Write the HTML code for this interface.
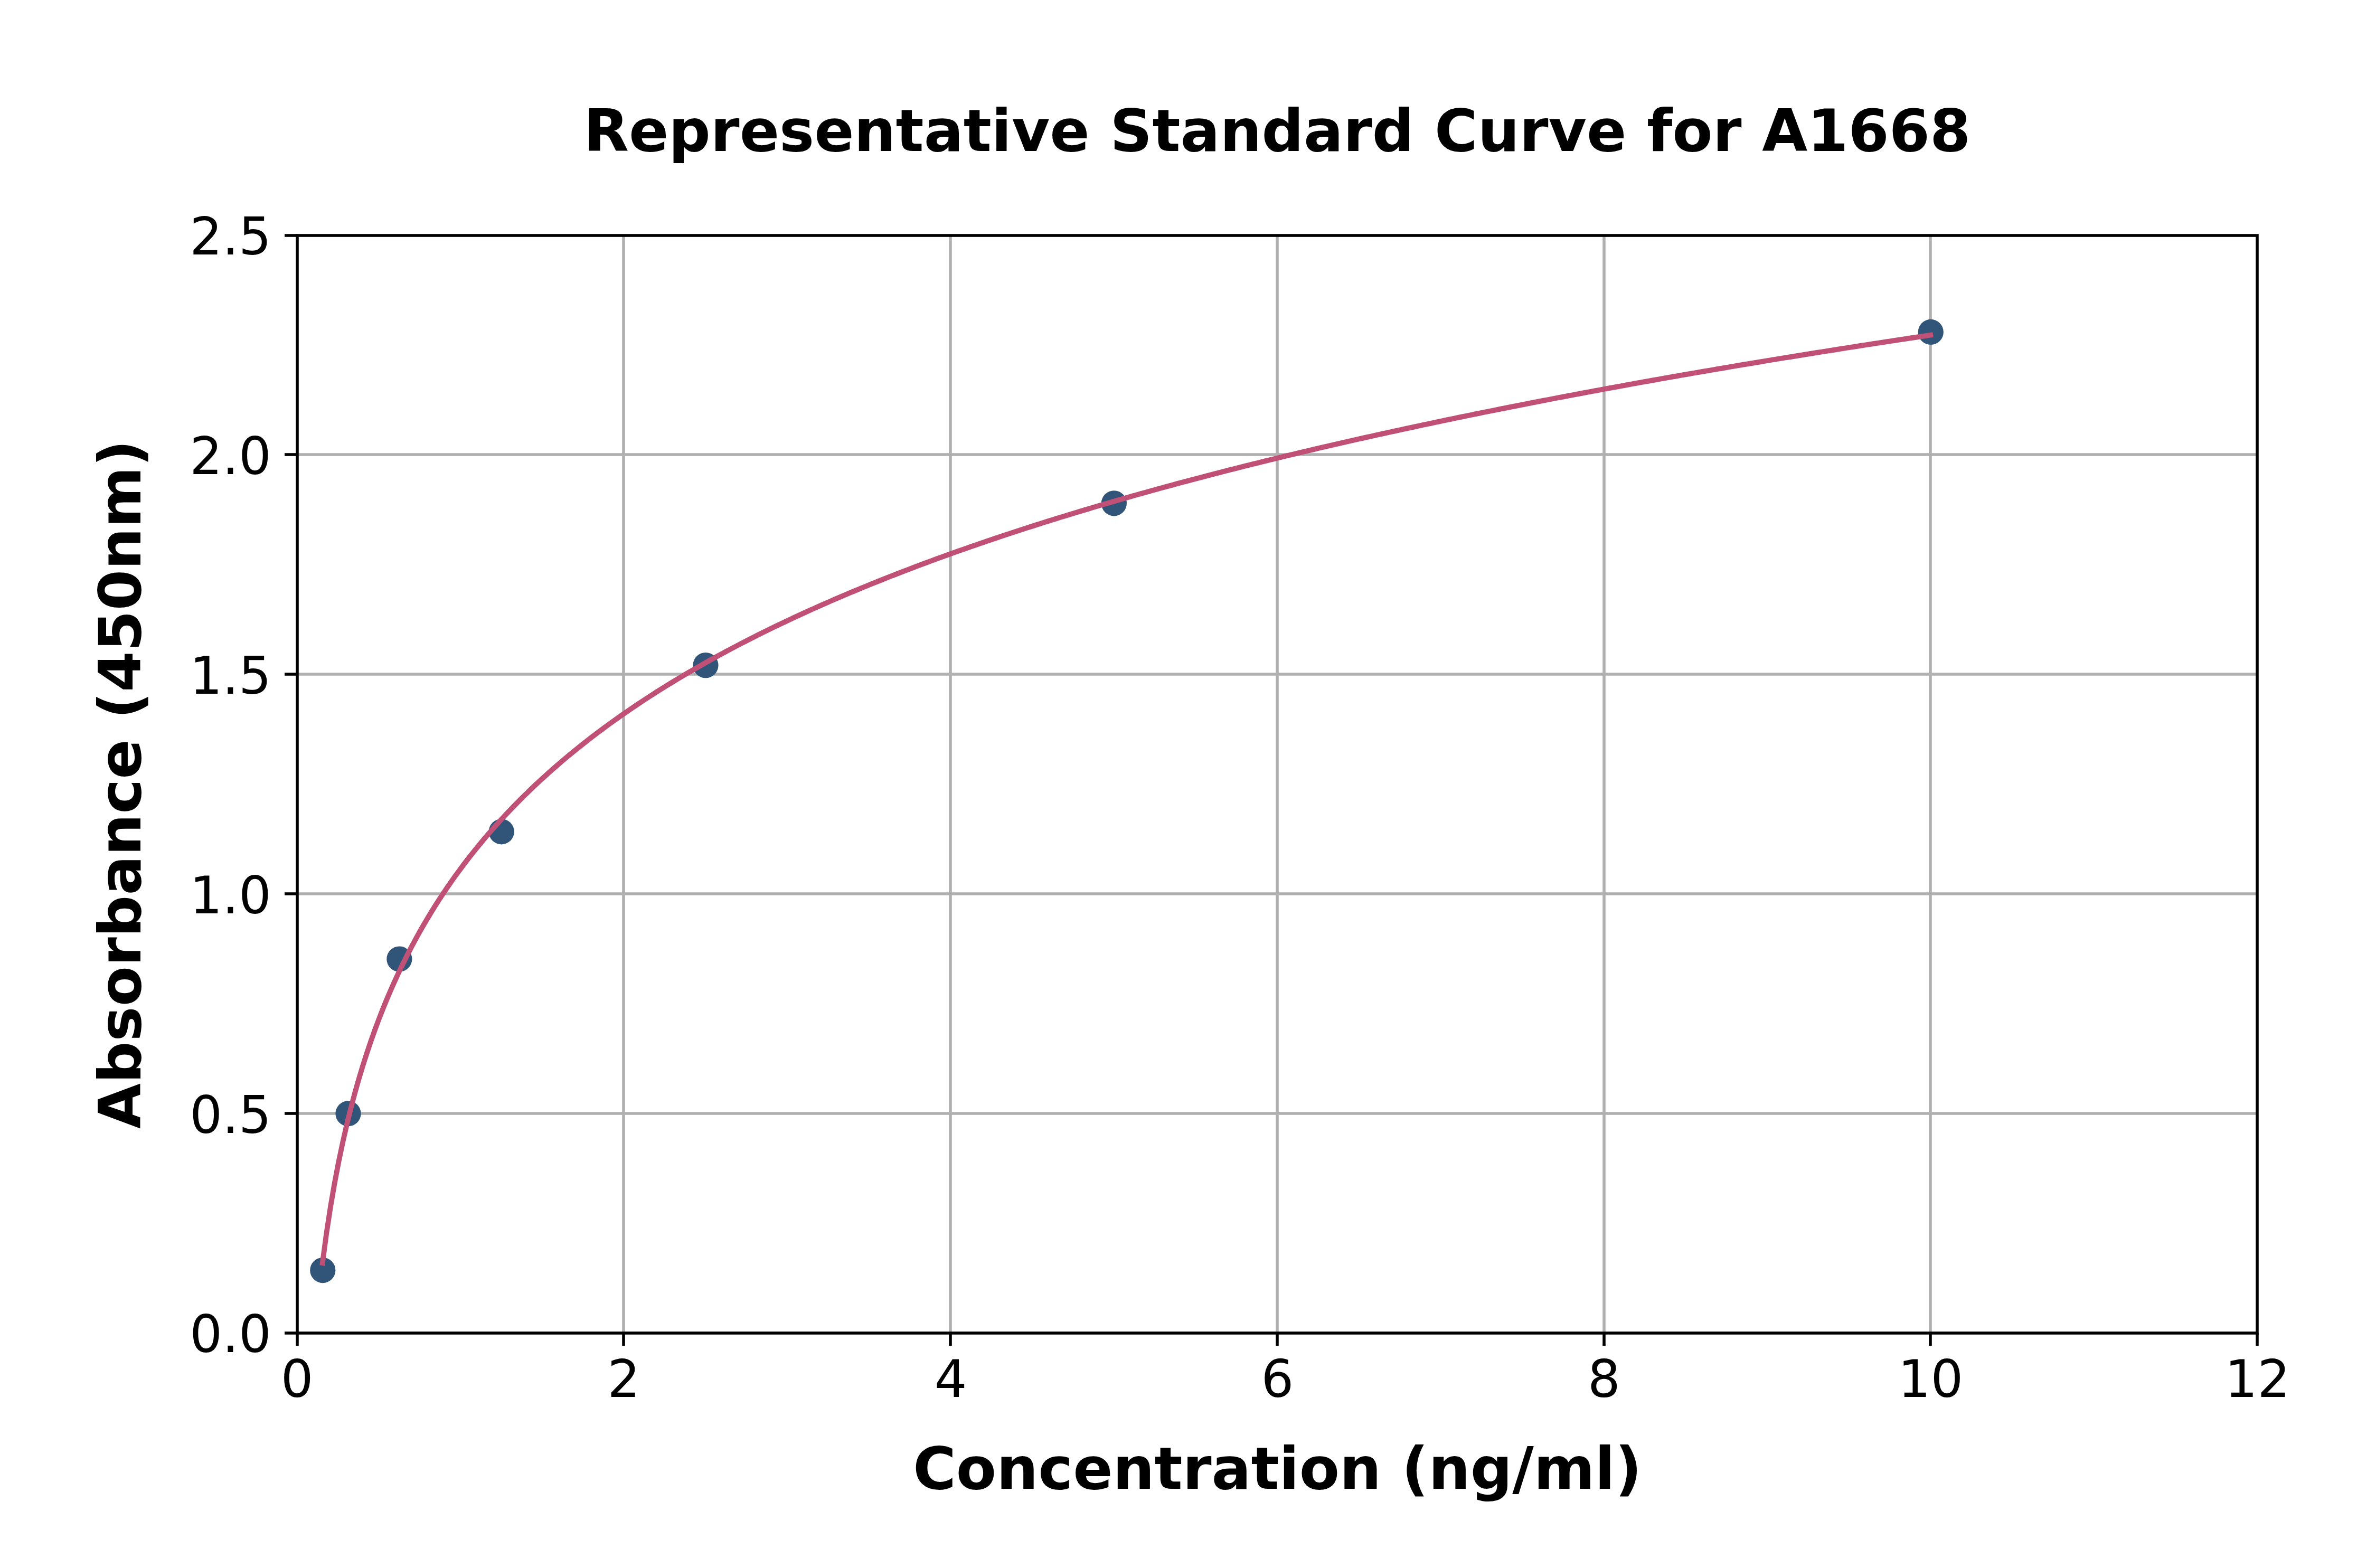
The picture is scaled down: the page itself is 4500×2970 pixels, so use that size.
<!DOCTYPE html>
<html lang="en">
<head>
<meta charset="utf-8">
<title>Representative Standard Curve for A1668</title>
<style>
html,body{margin:0;padding:0;background:#fff;}
body{width:4500px;height:2970px;overflow:hidden;}
svg{display:block;}
text{font-family:"DejaVu Sans","Liberation Sans",sans-serif;fill:#000;}
.b{font-weight:bold;font-size:111.11px;}
.t{font-size:97.22px;}
</style>
</head>
<body>
<svg width="4500" height="2970" viewBox="0 0 4500 2970">
<rect x="0" y="0" width="4500" height="2970" fill="#ffffff"/>
<g stroke="#b0b0b0" stroke-width="5.556" fill="none">
<line x1="1181" y1="446.0" x2="1181" y2="2525.0"/>
<line x1="1800" y1="446.0" x2="1800" y2="2525.0"/>
<line x1="2419" y1="446.0" x2="2419" y2="2525.0"/>
<line x1="3038" y1="446.0" x2="3038" y2="2525.0"/>
<line x1="3656" y1="446.0" x2="3656" y2="2525.0"/>
<line x1="563.0" y1="861" x2="4275.0" y2="861"/>
<line x1="563.0" y1="1277" x2="4275.0" y2="1277"/>
<line x1="563.0" y1="1693" x2="4275.0" y2="1693"/>
<line x1="563.0" y1="2109" x2="4275.0" y2="2109"/>
</g>
<g fill="#315579">
<circle cx="611.26" cy="2406.08" r="24.1"/>
<circle cx="659.52" cy="2109.20" r="24.1"/>
<circle cx="756.36" cy="1816.48" r="24.1"/>
<circle cx="949.72" cy="1575.31" r="24.1"/>
<circle cx="1336.44" cy="1260.14" r="24.1"/>
<circle cx="2109.88" cy="953.28" r="24.1"/>
<circle cx="3656.75" cy="628.95" r="24.1"/>
</g>
<polyline points="610.76,2392.15 618.40,2335.36 626.03,2285.55 633.66,2241.17 641.29,2201.12 648.93,2164.63 656.56,2131.10 664.19,2100.08 671.82,2071.21 679.46,2044.21 687.09,2018.84 694.72,1994.92 702.36,1972.28 709.99,1950.80 717.62,1930.36 725.25,1910.85 732.89,1892.21 740.52,1874.34 748.15,1857.19 755.79,1840.71 763.42,1824.84 771.05,1809.53 778.68,1794.75 786.32,1780.46 793.95,1766.63 801.58,1753.23 809.22,1740.23 816.85,1727.62 824.48,1715.36 832.11,1703.43 839.75,1691.83 847.38,1680.53 855.01,1669.51 862.64,1658.76 870.28,1648.28 877.91,1638.04 885.54,1628.03 893.18,1618.25 900.81,1608.68 908.44,1599.32 916.07,1590.15 923.71,1581.17 931.34,1572.37 938.97,1563.74 946.61,1555.27 954.24,1546.97 961.87,1538.82 969.50,1530.82 977.14,1522.96 984.77,1515.23 992.40,1507.64 1000.04,1500.18 1007.67,1492.84 1015.30,1485.62 1022.93,1478.52 1030.57,1471.53 1038.20,1464.64 1045.83,1457.86 1053.46,1451.19 1061.10,1444.61 1068.73,1438.13 1076.36,1431.74 1084.00,1425.44 1091.63,1419.22 1099.26,1413.10 1106.89,1407.05 1114.53,1401.09 1122.16,1395.20 1129.79,1389.40 1137.43,1383.66 1145.06,1378.00 1152.69,1372.41 1160.32,1366.88 1167.96,1361.43 1175.59,1356.04 1183.22,1350.71 1190.86,1345.45 1198.49,1340.24 1206.12,1335.10 1213.75,1330.01 1221.39,1324.99 1229.02,1320.01 1236.65,1315.09 1244.28,1310.23 1251.92,1305.41 1259.55,1300.65 1267.18,1295.93 1274.82,1291.27 1282.45,1286.65 1290.08,1282.08 1297.71,1277.55 1305.35,1273.07 1312.98,1268.64 1320.61,1264.24 1328.25,1259.89 1335.88,1255.58 1343.51,1251.31 1351.14,1247.08 1358.78,1242.89 1366.41,1238.73 1374.04,1234.62 1381.68,1230.54 1389.31,1226.50 1396.94,1222.49 1404.57,1218.52 1412.21,1214.58 1419.84,1210.68 1427.47,1206.81 1435.10,1202.97 1442.74,1199.16 1450.37,1195.39 1458.00,1191.64 1465.64,1187.93 1473.27,1184.25 1480.90,1180.59 1488.53,1176.97 1496.17,1173.37 1503.80,1169.80 1511.43,1166.26 1519.07,1162.75 1526.70,1159.26 1534.33,1155.80 1541.96,1152.37 1549.60,1148.96 1557.23,1145.57 1564.86,1142.21 1572.50,1138.88 1580.13,1135.57 1587.76,1132.28 1595.39,1129.02 1603.03,1125.78 1610.66,1122.56 1618.29,1119.36 1625.93,1116.19 1633.56,1113.04 1641.19,1109.91 1648.82,1106.80 1656.46,1103.71 1664.09,1100.64 1671.72,1097.59 1679.35,1094.56 1686.99,1091.56 1694.62,1088.57 1702.25,1085.60 1709.89,1082.65 1717.52,1079.72 1725.15,1076.80 1732.78,1073.91 1740.42,1071.03 1748.05,1068.17 1755.68,1065.33 1763.32,1062.51 1770.95,1059.70 1778.58,1056.91 1786.21,1054.14 1793.85,1051.38 1801.48,1048.64 1809.11,1045.91 1816.75,1043.20 1824.38,1040.51 1832.01,1037.83 1839.64,1035.17 1847.28,1032.53 1854.91,1029.89 1862.54,1027.28 1870.17,1024.68 1877.81,1022.09 1885.44,1019.51 1893.07,1016.95 1900.71,1014.41 1908.34,1011.88 1915.97,1009.36 1923.60,1006.86 1931.24,1004.37 1938.87,1001.89 1946.50,999.42 1954.14,996.97 1961.77,994.53 1969.40,992.11 1977.03,989.70 1984.67,987.29 1992.30,984.91 1999.93,982.53 2007.57,980.17 2015.20,977.81 2022.83,975.47 2030.46,973.14 2038.10,970.83 2045.73,968.52 2053.36,966.23 2060.99,963.94 2068.63,961.67 2076.26,959.41 2083.89,957.16 2091.53,954.92 2099.16,952.69 2106.79,950.47 2114.42,948.26 2122.06,946.07 2129.69,943.88 2137.32,941.70 2144.96,939.54 2152.59,937.38 2160.22,935.23 2167.85,933.10 2175.49,930.97 2183.12,928.85 2190.75,926.74 2198.39,924.64 2206.02,922.55 2213.65,920.47 2221.28,918.40 2228.92,916.34 2236.55,914.29 2244.18,912.24 2251.81,910.21 2259.45,908.18 2267.08,906.16 2274.71,904.15 2282.35,902.15 2289.98,900.16 2297.61,898.18 2305.24,896.20 2312.88,894.24 2320.51,892.28 2328.14,890.33 2335.78,888.38 2343.41,886.45 2351.04,884.52 2358.67,882.60 2366.31,880.69 2373.94,878.79 2381.57,876.89 2389.21,875.00 2396.84,873.12 2404.47,871.25 2412.10,869.39 2419.74,867.53 2427.37,865.68 2435.00,863.83 2442.63,862.00 2450.27,860.17 2457.90,858.34 2465.53,856.53 2473.17,854.72 2480.80,852.92 2488.43,851.12 2496.06,849.34 2503.70,847.55 2511.33,845.78 2518.96,844.01 2526.60,842.25 2534.23,840.50 2541.86,838.75 2549.49,837.01 2557.13,835.27 2564.76,833.54 2572.39,831.82 2580.03,830.10 2587.66,828.39 2595.29,826.69 2602.92,824.99 2610.56,823.30 2618.19,821.61 2625.82,819.93 2633.45,818.26 2641.09,816.59 2648.72,814.93 2656.35,813.27 2663.99,811.62 2671.62,809.98 2679.25,808.34 2686.88,806.70 2694.52,805.08 2702.15,803.45 2709.78,801.84 2717.42,800.23 2725.05,798.62 2732.68,797.02 2740.31,795.42 2747.95,793.83 2755.58,792.25 2763.21,790.67 2770.85,789.10 2778.48,787.53 2786.11,785.96 2793.74,784.41 2801.38,782.85 2809.01,781.30 2816.64,779.76 2824.27,778.22 2831.91,776.69 2839.54,775.16 2847.17,773.64 2854.81,772.12 2862.44,770.61 2870.07,769.10 2877.70,767.59 2885.34,766.09 2892.97,764.60 2900.60,763.11 2908.24,761.62 2915.87,760.14 2923.50,758.67 2931.13,757.19 2938.77,755.73 2946.40,754.26 2954.03,752.81 2961.67,751.35 2969.30,749.90 2976.93,748.46 2984.56,747.02 2992.20,745.58 2999.83,744.15 3007.46,742.72 3015.09,741.30 3022.73,739.88 3030.36,738.46 3037.99,737.05 3045.63,735.65 3053.26,734.25 3060.89,732.85 3068.52,731.45 3076.16,730.06 3083.79,728.68 3091.42,727.29 3099.06,725.92 3106.69,724.54 3114.32,723.17 3121.95,721.81 3129.59,720.44 3137.22,719.08 3144.85,717.73 3152.49,716.38 3160.12,715.03 3167.75,713.69 3175.38,712.35 3183.02,711.01 3190.65,709.68 3198.28,708.35 3205.91,707.03 3213.55,705.71 3221.18,704.39 3228.81,703.08 3236.45,701.77 3244.08,700.46 3251.71,699.16 3259.34,697.86 3266.98,696.56 3274.61,695.27 3282.24,693.98 3289.88,692.69 3297.51,691.41 3305.14,690.13 3312.77,688.86 3320.41,687.59 3328.04,686.32 3335.67,685.05 3343.31,683.79 3350.94,682.53 3358.57,681.28 3366.20,680.03 3373.84,678.78 3381.47,677.53 3389.10,676.29 3396.73,675.05 3404.37,673.81 3412.00,672.58 3419.63,671.35 3427.27,670.13 3434.90,668.90 3442.53,667.68 3450.16,666.47 3457.80,665.25 3465.43,664.04 3473.06,662.83 3480.70,661.63 3488.33,660.43 3495.96,659.23 3503.59,658.03 3511.23,656.84 3518.86,655.65 3526.49,654.46 3534.13,653.28 3541.76,652.10 3549.39,650.92 3557.02,649.74 3564.66,648.57 3572.29,647.40 3579.92,646.23 3587.55,645.07 3595.19,643.91 3602.82,642.75 3610.45,641.60 3618.09,640.44 3625.72,639.29 3633.35,638.15 3640.98,637.00 3648.62,635.86 3656.25,634.72" fill="none" stroke="#c05075" stroke-width="9.8" stroke-linecap="square" stroke-linejoin="round"/>
<g stroke="#000" stroke-width="5.556" fill="none">
<line x1="563" y1="2525" x2="563" y2="2549"/>
<line x1="1181" y1="2525" x2="1181" y2="2549"/>
<line x1="1800" y1="2525" x2="1800" y2="2549"/>
<line x1="2419" y1="2525" x2="2419" y2="2549"/>
<line x1="3038" y1="2525" x2="3038" y2="2549"/>
<line x1="3656" y1="2525" x2="3656" y2="2549"/>
<line x1="4275" y1="2525" x2="4275" y2="2549"/>
<line x1="539" y1="446" x2="563" y2="446"/>
<line x1="539" y1="861" x2="563" y2="861"/>
<line x1="539" y1="1277" x2="563" y2="1277"/>
<line x1="539" y1="1693" x2="563" y2="1693"/>
<line x1="539" y1="2109" x2="563" y2="2109"/>
<line x1="539" y1="2525" x2="563" y2="2525"/>
<rect x="563.0" y="446.0" width="3712.0" height="2079.0"/>
</g>
<text class="t" x="562.80" y="2646.0" text-anchor="middle">0</text>
<text class="t" x="1181.55" y="2646.0" text-anchor="middle">2</text>
<text class="t" x="1800.80" y="2646.0" text-anchor="middle">4</text>
<text class="t" x="2419.55" y="2646.0" text-anchor="middle">6</text>
<text class="t" x="3038.00" y="2646.0" text-anchor="middle">8</text>
<text class="t" x="3656.55" y="2646.0" text-anchor="middle">10</text>
<text class="t" x="4275.50" y="2646.0" text-anchor="middle">12</text>
<text class="t" x="513.9" y="2561.40" text-anchor="end">0.0</text>
<text class="t" x="513.9" y="2145.60" text-anchor="end">0.5</text>
<text class="t" x="513.9" y="1729.80" text-anchor="end">1.0</text>
<text class="t" x="513.9" y="1314.00" text-anchor="end">1.5</text>
<text class="t" x="513.9" y="898.20" text-anchor="end">2.0</text>
<text class="t" x="513.9" y="482.40" text-anchor="end">2.5</text>
<text class="b" x="2418.9" y="285.7" text-anchor="middle">Representative Standard Curve for A1668</text>
<text class="b" x="2419.4" y="2820.2" text-anchor="middle">Concentration (ng/ml)</text>
<text class="b" transform="translate(265.5 1485.6) rotate(-90)" text-anchor="middle">Absorbance (450nm)</text>
</svg>
</body>
</html>
